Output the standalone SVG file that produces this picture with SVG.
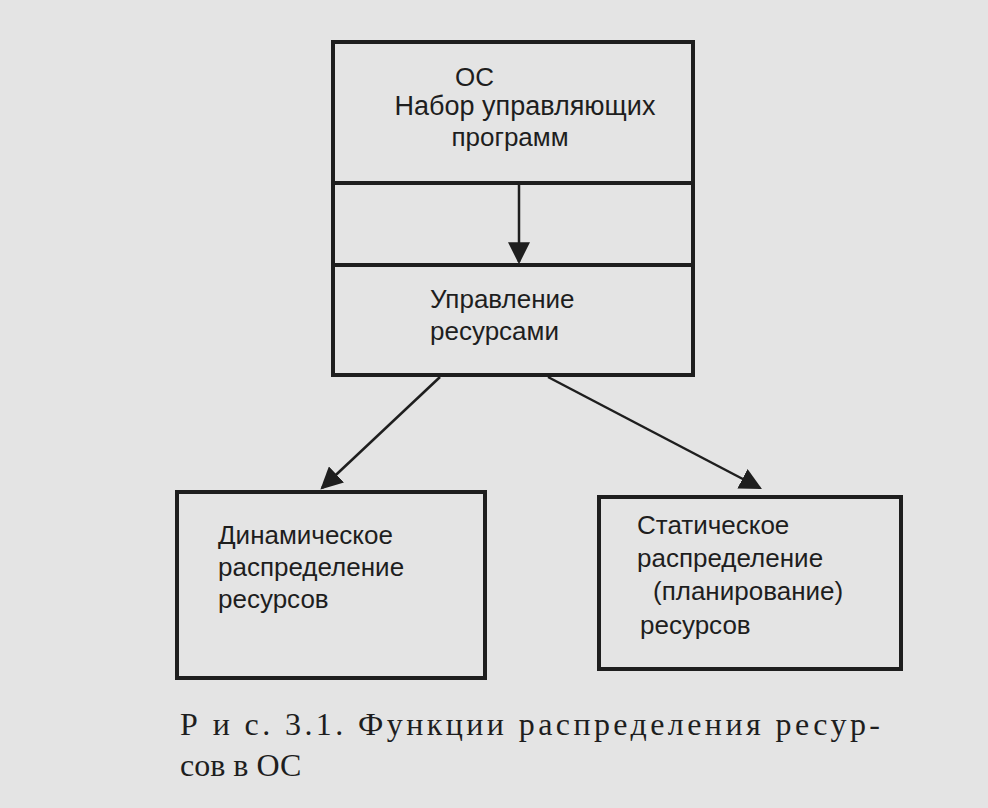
<svg xmlns="http://www.w3.org/2000/svg" width="988" height="808" viewBox="0 0 988 808">
<defs>
<style>
.b{fill:none;stroke:#1e1e1e;stroke-width:4}
.l{stroke:#1e1e1e;stroke-width:2.5;fill:none}
.t{font-family:"Liberation Sans",Arial,sans-serif;font-size:26px;fill:#1e1e1e}
.c{font-family:"Liberation Serif","Times New Roman",serif;font-size:32px;fill:#1e1e1e}
</style>
<marker id="a2" viewBox="0 0 10 10" refX="9" refY="5" markerWidth="22" markerHeight="22" markerUnits="userSpaceOnUse" orient="auto"><path d="M0,0L10,5L0,10z" fill="#1e1e1e"/></marker>
</defs>
<rect width="988" height="808" fill="#e4e4e4"/>
<g id="top">
<rect class="b" x="333" y="42" width="360" height="333"/>
<line class="b" x1="333" y1="183" x2="693" y2="183"/>
<line class="b" x1="333" y1="265" x2="693" y2="265"/>
<text class="t" x="455" y="86">ОС</text>
<text class="t" x="525" y="115" text-anchor="middle" style="font-size:27px">Набор управляющих</text>
<text class="t" x="510" y="146" text-anchor="middle">программ</text>
<text class="t" x="430" y="308">Управление</text>
<text class="t" x="430" y="340">ресурсами</text>
</g>
<g id="left">
<rect class="b" x="177" y="492" width="308" height="186"/>
<text class="t" x="218" y="544">Динамическое</text>
<text class="t" x="218" y="576">распределение</text>
<text class="t" x="218" y="608">ресурсов</text>
</g>
<g id="right">
<rect class="b" x="599" y="497" width="302" height="172"/>
<text class="t" x="637" y="534">Статическое</text>
<text class="t" x="637" y="567">распределение</text>
<text class="t" x="653" y="600">(планирование)</text>
<text class="t" x="640" y="634">ресурсов</text>
</g>
<g id="connectors">
<line class="l" x1="519" y1="185" x2="519" y2="262" marker-end="url(#a2)"/>
<line class="l" x1="440" y1="377" x2="322" y2="488" marker-end="url(#a2)"/>
<line class="l" x1="548" y1="377" x2="760" y2="488" marker-end="url(#a2)"/>
</g>
<text class="c" x="180" y="735" textLength="700">Р и с. 3.1. Функции распределения ресур-</text>
<text class="c" x="180" y="776">сов в ОС</text>
</svg>
